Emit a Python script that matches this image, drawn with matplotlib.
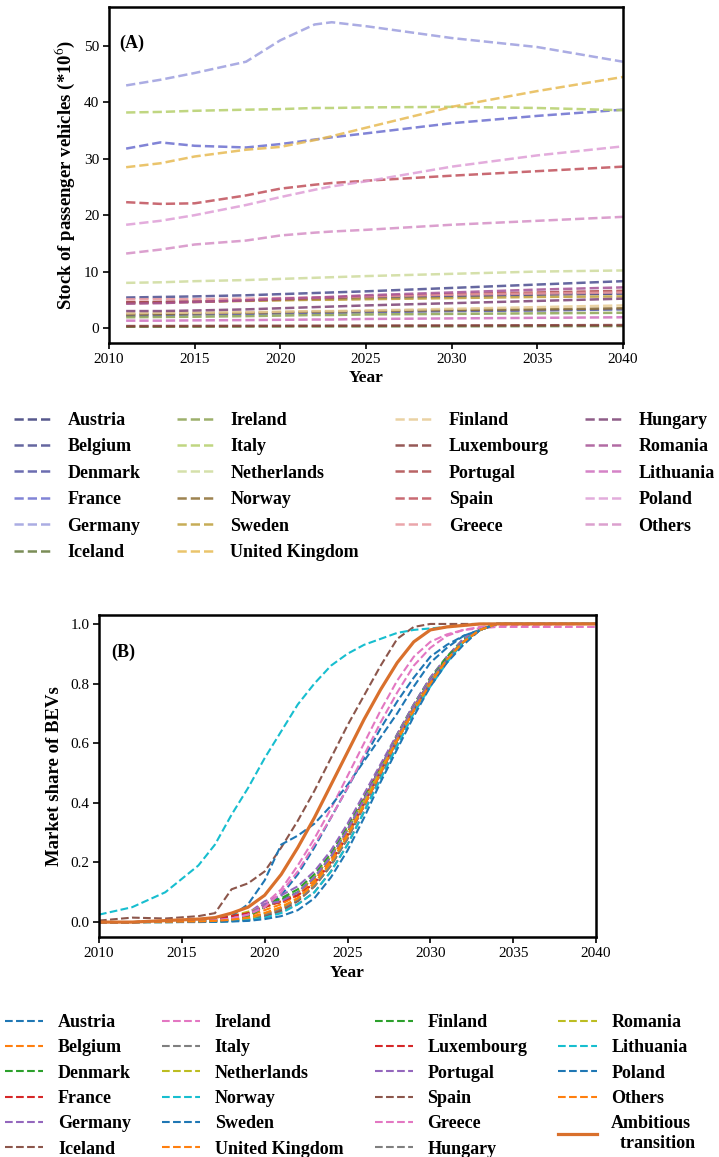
import numpy as np
import matplotlib.pyplot as plt

plt.rcParams['font.family'] = ['Liberation Serif', 'DejaVu Serif']
plt.rcParams['mathtext.fontset'] = 'stix'

# ---------------- panel (A): stock of passenger vehicles (million) ----------------
years_a = [2011, 2013, 2015, 2018, 2020, 2022, 2023, 2025, 2030, 2035, 2040]

countries_a = ['Austria', 'Belgium', 'Denmark', 'France', 'Germany', 'Iceland',
               'Ireland', 'Italy', 'Netherlands', 'Norway', 'Sweden', 'United Kingdom',
               'Finland', 'Luxembourg', 'Portugal', 'Spain', 'Greece',
               'Hungary', 'Romania', 'Lithuania', 'Poland', 'Others']

austria_a = [4.5, 4.6, 4.7, 4.9, 5.0, 5.1, 5.2, 5.3, 5.6, 5.9, 6.1]
belgium_a = [5.4, 5.5, 5.6, 5.8, 6.0, 6.2, 6.3, 6.5, 7.1, 7.7, 8.3]
denmark_a = [2.2, 2.3, 2.4, 2.5, 2.6, 2.7, 2.7, 2.8, 3.0, 3.1, 3.3]
france_a = [31.8, 32.9, 32.3, 32.0, 32.6, 33.4, 33.8, 34.5, 36.3, 37.6, 38.7]
germany_a = [43.0, 44.0, 45.2, 47.2, 51.0, 53.8, 54.2, 53.5, 51.4, 49.8, 47.2]
iceland_a = [0.22, 0.23, 0.24, 0.26, 0.27, 0.28, 0.28, 0.29, 0.31, 0.33, 0.35]
ireland_a = [1.9, 1.95, 2.0, 2.1, 2.2, 2.3, 2.3, 2.4, 2.5, 2.6, 2.7]
italy_a = [38.2, 38.3, 38.5, 38.7, 38.8, 39.0, 39.0, 39.1, 39.2, 39.0, 38.6]
netherlands_a = [8.0, 8.1, 8.3, 8.5, 8.7, 8.9, 9.0, 9.2, 9.6, 10.0, 10.2]
norway_a = [2.4, 2.5, 2.6, 2.7, 2.8, 2.9, 2.9, 3.0, 3.2, 3.3, 3.5]
sweden_a = [4.4, 4.5, 4.6, 4.8, 4.9, 5.0, 5.0, 5.1, 5.3, 5.5, 5.6]
uk_a = [28.5, 29.2, 30.4, 31.6, 32.1, 33.3, 34.0, 35.5, 39.2, 42.0, 44.5]
finland_a = [2.6, 2.7, 2.7, 2.8, 2.9, 3.0, 3.0, 3.1, 3.4, 3.7, 4.0]
luxembourg_a = [0.34, 0.35, 0.36, 0.38, 0.39, 0.40, 0.41, 0.42, 0.45, 0.48, 0.52]
portugal_a = [4.6, 4.6, 4.7, 4.9, 5.1, 5.3, 5.4, 5.6, 6.0, 6.3, 6.6]
spain_a = [22.3, 22.0, 22.1, 23.5, 24.7, 25.4, 25.7, 26.1, 27.0, 27.8, 28.6]
greece_a = [5.1, 5.1, 5.1, 5.2, 5.3, 5.4, 5.5, 5.6, 5.9, 6.1, 6.3]
hungary_a = [3.0, 3.0, 3.1, 3.3, 3.5, 3.7, 3.8, 4.0, 4.4, 4.8, 5.2]
romania_a = [4.3, 4.4, 4.6, 4.9, 5.2, 5.4, 5.5, 5.8, 6.3, 6.8, 7.2]
lithuania_a = [1.3, 1.3, 1.35, 1.4, 1.45, 1.5, 1.5, 1.6, 1.7, 1.8, 1.9]
poland_a = [18.3, 19.0, 20.0, 21.8, 23.2, 24.5, 25.1, 26.0, 28.6, 30.6, 32.2]
others_a = [13.2, 13.9, 14.8, 15.5, 16.4, 16.9, 17.1, 17.4, 18.3, 19.0, 19.7]

stock_a = [austria_a, belgium_a, denmark_a, france_a, germany_a, iceland_a,
           ireland_a, italy_a, netherlands_a, norway_a, sweden_a, uk_a,
           finland_a, luxembourg_a, portugal_a, spain_a, greece_a,
           hungary_a, romania_a, lithuania_a, poland_a, others_a]

colors_a = ['#393b79', '#4a4c8f', '#5254a3', '#6b6ecf', '#9c9ede', '#637939',
            '#8ca252', '#b5cf6b', '#cedb9c', '#8c6d31', '#bd9e39', '#e7ba52',
            '#e7cb94', '#843c39', '#ad494a', '#c0505a', '#e7969c',
            '#7b4173', '#a55194', '#ce6dbd', '#de9ed6', '#d58fc6']

# ---------------- panel (B): market share of BEVs ----------------
years_b = [2010, 2012, 2014, 2016, 2017, 2018, 2019, 2020, 2021, 2022, 2023, 2024,
           2025, 2026, 2027, 2028, 2029, 2030, 2031, 2032, 2033, 2034, 2040]

countries_b = ['Austria', 'Belgium', 'Denmark', 'France', 'Germany', 'Iceland',
               'Ireland', 'Italy', 'Netherlands', 'Norway', 'Sweden', 'United Kingdom',
               'Finland', 'Luxembourg', 'Portugal', 'Spain', 'Greece', 'Hungary',
               'Romania', 'Lithuania', 'Poland', 'Others']

austria_b = [0, 0, 0.001, 0.003, 0.005, 0.01, 0.025, 0.05, 0.09, 0.16, 0.25, 0.35, 0.45, 0.55, 0.65, 0.74, 0.82, 0.89, 0.93, 0.96, 0.98, 1.0, 1.0]
belgium_b = [0, 0, 0.001, 0.003, 0.005, 0.008, 0.014, 0.025, 0.045, 0.075, 0.12, 0.19, 0.28, 0.39, 0.50, 0.61, 0.71, 0.80, 0.88, 0.94, 0.98, 1.0, 1.0]
denmark_b = [0, 0, 0.003, 0.006, 0.008, 0.015, 0.03, 0.06, 0.08, 0.11, 0.16, 0.23, 0.32, 0.42, 0.52, 0.63, 0.73, 0.82, 0.89, 0.95, 0.98, 1.0, 1.0]
france_b = [0, 0, 0.002, 0.005, 0.008, 0.015, 0.025, 0.06, 0.065, 0.09, 0.14, 0.21, 0.30, 0.41, 0.52, 0.62, 0.72, 0.81, 0.88, 0.94, 0.98, 1.0, 1.0]
germany_b = [0, 0, 0.001, 0.003, 0.006, 0.012, 0.03, 0.07, 0.09, 0.12, 0.17, 0.24, 0.33, 0.43, 0.53, 0.63, 0.73, 0.82, 0.89, 0.95, 0.98, 1.0, 1.0]
iceland_b = [0.005, 0.015, 0.012, 0.02, 0.03, 0.11, 0.13, 0.17, 0.25, 0.34, 0.44, 0.55, 0.66, 0.76, 0.86, 0.95, 0.99, 1.0, 1.0, 1.0, 1.0, 1.0, 1.0]
ireland_b = [0, 0, 0.002, 0.005, 0.008, 0.015, 0.03, 0.06, 0.11, 0.19, 0.28, 0.38, 0.49, 0.60, 0.71, 0.81, 0.89, 0.94, 0.965, 0.98, 0.985, 0.99, 0.99]
italy_b = [0, 0, 0, 0.001, 0.002, 0.004, 0.008, 0.02, 0.035, 0.06, 0.10, 0.17, 0.26, 0.37, 0.49, 0.60, 0.71, 0.80, 0.88, 0.94, 0.98, 1.0, 1.0]
netherlands_b = [0, 0, 0.004, 0.008, 0.01, 0.02, 0.035, 0.05, 0.07, 0.10, 0.15, 0.22, 0.31, 0.41, 0.51, 0.62, 0.72, 0.81, 0.88, 0.94, 0.98, 1.0, 1.0]
norway_b = [0.025, 0.05, 0.10, 0.19, 0.26, 0.36, 0.45, 0.55, 0.64, 0.73, 0.80, 0.86, 0.90, 0.93, 0.95, 0.97, 0.98, 0.985, 0.99, 0.995, 1.0, 1.0, 1.0]
sweden_b = [0, 0, 0.002, 0.005, 0.01, 0.02, 0.06, 0.14, 0.26, 0.29, 0.33, 0.39, 0.46, 0.54, 0.62, 0.70, 0.79, 0.87, 0.92, 0.96, 0.98, 1.0, 1.0]
uk_b = [0, 0, 0.002, 0.004, 0.006, 0.01, 0.02, 0.04, 0.06, 0.09, 0.14, 0.21, 0.30, 0.40, 0.51, 0.62, 0.72, 0.81, 0.88, 0.94, 0.98, 1.0, 1.0]
finland_b = [0, 0, 0.001, 0.002, 0.004, 0.008, 0.02, 0.05, 0.075, 0.10, 0.15, 0.22, 0.31, 0.41, 0.52, 0.62, 0.72, 0.81, 0.89, 0.94, 0.98, 1.0, 1.0]
luxembourg_b = [0, 0, 0.002, 0.005, 0.008, 0.02, 0.03, 0.05, 0.07, 0.09, 0.13, 0.20, 0.29, 0.40, 0.51, 0.61, 0.71, 0.80, 0.88, 0.94, 0.98, 1.0, 1.0]
portugal_b = [0, 0, 0.002, 0.004, 0.006, 0.012, 0.025, 0.06, 0.07, 0.10, 0.15, 0.22, 0.31, 0.41, 0.52, 0.62, 0.72, 0.81, 0.88, 0.94, 0.98, 1.0, 1.0]
spain_b = [0, 0, 0, 0.001, 0.002, 0.004, 0.008, 0.02, 0.04, 0.07, 0.12, 0.19, 0.28, 0.39, 0.50, 0.61, 0.71, 0.80, 0.88, 0.94, 0.98, 1.0, 1.0]
greece_b = [0, 0, 0.002, 0.004, 0.006, 0.012, 0.025, 0.05, 0.10, 0.17, 0.26, 0.35, 0.45, 0.56, 0.67, 0.77, 0.86, 0.92, 0.96, 0.98, 0.99, 0.995, 1.0]
hungary_b = [0, 0, 0.001, 0.002, 0.003, 0.006, 0.012, 0.025, 0.045, 0.075, 0.12, 0.19, 0.28, 0.39, 0.50, 0.61, 0.71, 0.80, 0.88, 0.94, 0.98, 1.0, 1.0]
romania_b = [0, 0, 0, 0.001, 0.002, 0.005, 0.01, 0.03, 0.05, 0.08, 0.13, 0.20, 0.29, 0.40, 0.51, 0.61, 0.71, 0.80, 0.88, 0.94, 0.98, 1.0, 1.0]
lithuania_b = [0, 0, 0, 0.001, 0.001, 0.003, 0.006, 0.015, 0.03, 0.06, 0.10, 0.17, 0.26, 0.37, 0.48, 0.59, 0.70, 0.79, 0.87, 0.94, 0.98, 1.0, 1.0]
poland_b = [0, 0, 0, 0, 0.001, 0.002, 0.004, 0.01, 0.02, 0.04, 0.08, 0.15, 0.24, 0.35, 0.47, 0.58, 0.69, 0.79, 0.87, 0.93, 0.98, 1.0, 1.0]
others_b = [0, 0, 0.001, 0.002, 0.004, 0.008, 0.015, 0.03, 0.05, 0.08, 0.13, 0.20, 0.29, 0.39, 0.50, 0.61, 0.71, 0.80, 0.88, 0.94, 0.98, 1.0, 1.0]
ambitious_b = [0, 0, 0.005, 0.01, 0.015, 0.03, 0.05, 0.09, 0.16, 0.25, 0.35, 0.46, 0.57, 0.68, 0.78, 0.87, 0.94, 0.98, 0.99, 0.995, 1.0, 1.0, 1.0]

share_b = [austria_b, belgium_b, denmark_b, france_b, germany_b, iceland_b,
           ireland_b, italy_b, netherlands_b, norway_b, sweden_b, uk_b,
           finland_b, luxembourg_b, portugal_b, spain_b, greece_b, hungary_b,
           romania_b, lithuania_b, poland_b, others_b]

W, H = 719, 1157
fig = plt.figure(figsize=(W / 100, H / 100), dpi=100)


def style_axes(ax):
    for sp in ax.spines.values():
        sp.set_linewidth(1.8)
        sp.set_color('black')
    ax.tick_params(direction='out', length=4, width=1.2, labelsize=11, colors='black', pad=3)
    ax.set_xlim(2010, 2040)
    ax.set_xticks([2010, 2015, 2020, 2025, 2030, 2035, 2040])


# panel A
axA = fig.add_axes([109 / W, 1 - 343 / H, (623 - 109) / W, (343 - 7) / H])
for name, vals, col in zip(countries_a, stock_a, colors_a):
    axA.plot(years_a, vals, '--', color=col, lw=1.8, alpha=0.85, label=name)
style_axes(axA)
axA.set_ylim(-2.66, 56.9)
axA.set_yticks([0, 10, 20, 30, 40, 50])
axA.set_xlabel('Year', fontsize=12.5, fontweight='bold', labelpad=3)
axA.set_ylabel('Stock of passenger vehicles (*10$^{6}$)', fontsize=13.5, fontweight='bold', labelpad=5)
axA.text(0.02, 0.893, '(A)', transform=axA.transAxes, fontsize=13, fontweight='bold', va='center')
axA.legend(loc='upper left', bbox_to_anchor=(14 / W, 1 - 412 / H), bbox_transform=fig.transFigure,
           ncol=4, frameon=False, borderpad=0, borderaxespad=0, handlelength=2.07,
           handletextpad=0.9, columnspacing=2.0, labelspacing=0.52,
           prop={'weight': 'bold', 'size': 13})

# panel B
tab = plt.rcParams['axes.prop_cycle'].by_key()['color']
axB = fig.add_axes([99 / W, 1 - 937 / H, (596 - 99) / W, (937 - 615) / H])
for i, (name, vals) in enumerate(zip(countries_b, share_b)):
    axB.plot(years_b, vals, '--', color=tab[i % 10], lw=1.5, label=name)
axB.plot(years_b, ambitious_b, '-', color='#d9702c', lw=2.3, label='Ambitious\n  transition')
style_axes(axB)
axB.set_ylim(-0.05, 1.03)
axB.set_yticks([0.0, 0.2, 0.4, 0.6, 0.8, 1.0])
axB.set_xlabel('Year', fontsize=12.5, fontweight='bold', labelpad=4)
axB.set_ylabel('Market share of BEVs', fontsize=13.5, fontweight='bold', labelpad=5)
axB.text(0.024, 0.885, '(B)', transform=axB.transAxes, fontsize=13, fontweight='bold', va='center')
axB.legend(loc='upper left', bbox_to_anchor=(5 / W, 1 - 1014 / H), bbox_transform=fig.transFigure,
           ncol=4, frameon=False, borderpad=0, borderaxespad=0, handlelength=2.13,
           handletextpad=0.8, columnspacing=1.72, labelspacing=0.46,
           prop={'weight': 'bold', 'size': 13})

fig.savefig('out.png', dpi=100)
